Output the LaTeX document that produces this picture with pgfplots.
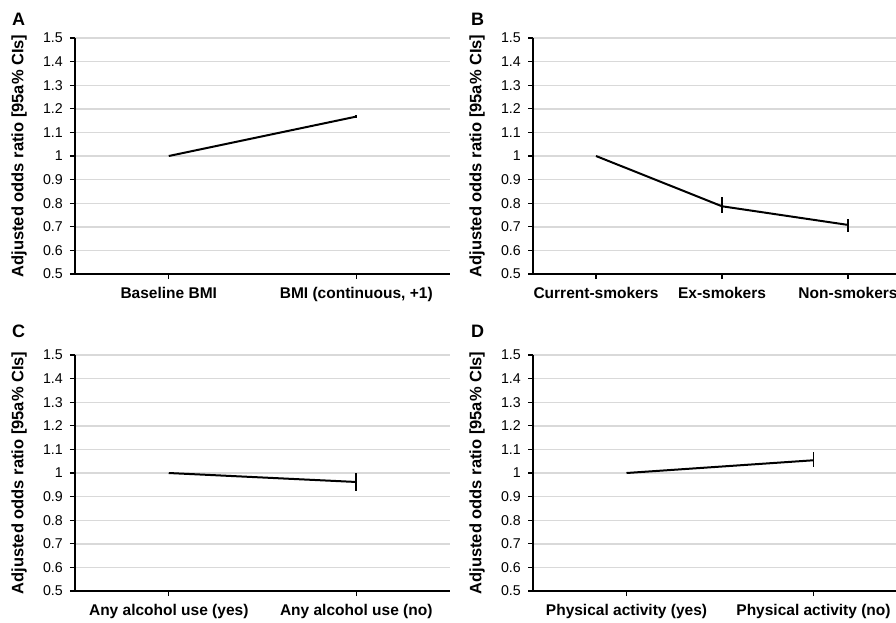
\documentclass[border=0pt]{standalone}
\usepackage{fontspec}
\setmainfont{Liberation Sans}
\usepackage{pgfplots}
\pgfplotsset{compat=1.18}
\definecolor{gridc}{HTML}{D9D9D9}
\pgfplotsset{
  panel/.style={
    scale only axis,
    height=236pt,
    ymin=0.5, ymax=1.5,
    ytick={0.5,0.6,0.7,0.8,0.9,1,1.1,1.2,1.3,1.4,1.5},
    yticklabels={0.5,0.6,0.7,0.8,0.9,1,1.1,1.2,1.3,1.4,1.5},
    xmin=-0.5,
    xtick=data,
    axis x line*=bottom,
    axis y line*=left,
    x axis line style={-, line width=2pt},
    y axis line style={-, line width=2pt},
    tick align=outside,
    major tick length=5pt,
    tick style={black, line width=1.2pt},
    ymajorgrids,
    grid style={gridc, line width=1.4pt},
    /pgf/number format/assume math mode=true,
    yticklabel style={font=\fontsize{14.2}{16}\selectfont, inner sep=0pt, xshift=-7pt},
    xticklabel style={font=\fontsize{15.5}{17}\selectfont\bfseries, inner sep=0pt, yshift=-8pt},
    ylabel={Adjusted odds ratio [95a\% CIs]},
    ylabel style={font=\fontsize{16.5}{18}\selectfont\bfseries, at={([xshift=-56pt]axis description cs:0,0.5)}, anchor=center},
  },
  series/.style={black, line width=2pt, mark=none,
    error bars/.cd, y dir=both, y explicit, error mark=none,
    error bar style={black, line width=1.6pt}},
}
\tikzset{letter/.style={font=\fontsize{18}{20}\selectfont\bfseries, anchor=north west, inner sep=0pt}}
\begin{document}
\begin{tikzpicture}
\path[use as bounding box, clip] (0pt,0pt) rectangle (896pt,-622pt);
% Panel A
\node[letter] at (12pt,-13pt) {A};
\begin{axis}[panel, at={(75pt,-274pt)}, anchor=south west, width=375pt, xmax=1.5,
  xticklabels={Baseline BMI, {BMI (continuous, +1)}}]
\addplot[series] coordinates {
  (0,1.000) +- (0,0)
  (1,1.167) += (0,0.005) -= (0,0.006)
};
\end{axis}
% Panel B
\node[letter] at (471pt,-13pt) {B};
\begin{axis}[panel, at={(533pt,-274pt)}, anchor=south west, width=378pt, xmax=2.5,
  xticklabels={Current-smokers, Ex-smokers, Non-smokers}]
\addplot[series] coordinates {
  (0,1.000) +- (0,0)
  (1,0.787) += (0,0.038) -= (0,0.030)
  (2,0.708) += (0,0.027) -= (0,0.028)
};
\end{axis}
% Panel C
\node[letter] at (12pt,-325pt) {C};
\begin{axis}[panel, at={(75pt,-591pt)}, anchor=south west, width=375pt, xmax=1.5,
  xticklabels={Any alcohol use (yes), Any alcohol use (no)}]
\addplot[series] coordinates {
  (0,1.000) +- (0,0)
  (1,0.962) += (0,0.036) -= (0,0.037)
};
\end{axis}
% Panel D
\node[letter] at (471pt,-325pt) {D};
\begin{axis}[panel, at={(533pt,-591pt)}, anchor=south west, width=374pt, xmax=1.5,
  xticklabels={Physical activity (yes), Physical activity (no)}]
\addplot[series] coordinates {
  (0,1.000) +- (0,0)
  (1,1.054) += (0,0.033) -= (0,0.029)
};
\end{axis}
\end{tikzpicture}
\end{document}
